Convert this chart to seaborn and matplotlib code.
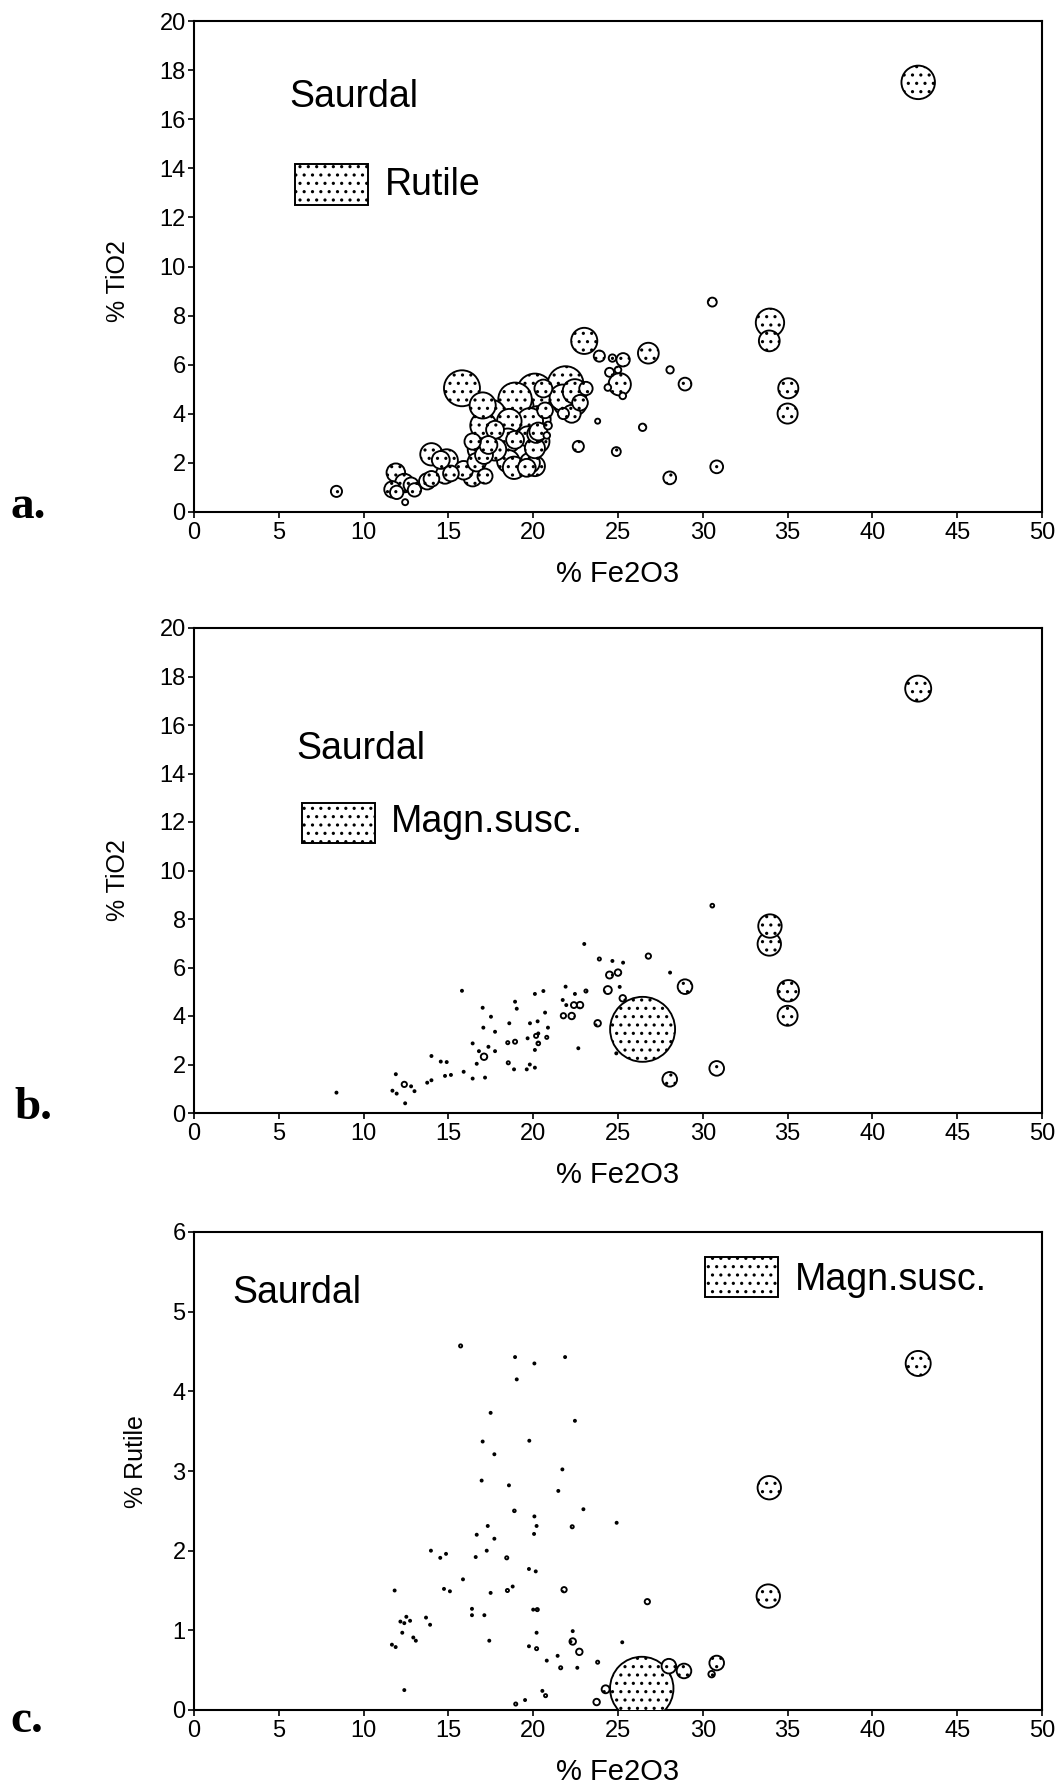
import numpy as np
import pandas as pd
import matplotlib
matplotlib.use("Agg")
import matplotlib.pyplot as plt
from matplotlib.patches import Rectangle
import seaborn as sns

# ---------------- data: panels a and b (same samples) ----------------
fe2o3_ab = [8.4, 11.9, 11.7, 11.95, 12.45, 12.4, 12.8, 13.0, 13.75, 14.0,
            14.0, 14.55, 14.9, 14.8, 15.15, 15.9, 15.8, 16.43, 16.43, 16.67,
            17.02, 17.06, 17.1, 17.16, 16.8, 17.36, 17.51, 17.75, 17.75, 18.5,
            18.53, 18.59, 18.93, 19.03, 18.93, 18.87, 19.62, 19.67, 19.81, 19.8,
            20.1, 20.1, 20.17, 20.26, 20.3, 20.3, 20.1, 20.6, 20.7, 20.8,
            20.87, 21.78, 21.74, 21.91, 21.95, 22.27, 22.4, 22.46, 22.76, 22.66,
            23.01, 23.11, 23.8, 23.9, 24.4, 24.5, 24.67, 25.0, 25.1, 25.28,
            25.3, 24.9, 26.45, 26.79, 28.07, 28.05, 28.95, 30.56, 30.82, 33.96,
            33.92, 35.04, 35.0, 42.7]
tio2_ab = [0.84, 1.6, 0.92, 0.8, 0.40, 1.18, 1.1, 0.9, 1.25, 1.35,
           2.35, 2.12, 2.1, 1.53, 1.57, 1.7, 5.04, 2.87, 1.42, 2.03,
           4.34, 3.52, 2.32, 1.46, 2.55, 2.73, 3.97, 3.35, 2.55, 2.9,
           2.07, 3.70, 4.59, 4.30, 2.94, 1.8, 1.80, 3.08, 3.70, 2.0,
           4.91, 2.6, 3.18, 3.78, 2.87, 3.28, 1.87, 5.03, 4.14, 3.12,
           3.52, 4.01, 4.66, 5.21, 4.45, 4.0, 4.45, 4.91, 4.45, 2.67,
           6.97, 5.03, 3.7, 6.35, 5.07, 5.69, 6.27, 5.79, 5.2, 4.73,
           6.2, 2.46, 3.45, 6.47, 5.79, 1.39, 5.21, 8.55, 1.84, 7.71,
           6.97, 5.04, 4.01, 17.5]
rutile_ab = [0.48, 1.33, 1.03, 0.69, 0.14, 1.33, 0.87, 0.69, 1.03, 0.95,
             1.93, 1.23, 1.93, 1.33, 0.95, 1.33, 5.38, 1.03, 1.33, 1.33,
             2.64, 2.64, 1.23, 0.87, 1.93, 1.23, 3.41, 1.23, 1.93, 2.33,
             1.93, 2.33, 4.34, 4.34, 1.23, 1.93, 1.23, 1.56, 2.64, 1.56,
             4.94, 1.56, 1.23, 2.64, 1.93, 1.23, 1.56, 1.23, 0.95, 0.17,
             0.24, 0.48, 2.64, 4.94, 2.64, 1.23, 2.64, 2.33, 0.95, 0.48,
             2.64, 0.69, 0.10, 0.48, 0.17, 0.31, 0.21, 0.17, 1.93, 0.17,
             0.69, 0.31, 0.21, 1.67, 0.21, 0.63, 0.63, 0.31, 0.63, 3.11,
             1.67, 1.56, 1.56, 4.34]
magsusc_ab = [0.03, 0.03, 0.03, 0.03, 0.03, 0.2, 0.03, 0.03, 0.03, 0.03,
              0.03, 0.03, 0.03, 0.03, 0.03, 0.03, 0.03, 0.03, 0.03, 0.03,
              0.03, 0.03, 0.3, 0.03, 0.03, 0.03, 0.03, 0.03, 0.03, 0.07,
              0.07, 0.03, 0.03, 0.03, 0.12, 0.03, 0.03, 0.03, 0.03, 0.03,
              0.03, 0.03, 0.12, 0.03, 0.1, 0.03, 0.03, 0.03, 0.03, 0.07,
              0.03, 0.2, 0.03, 0.03, 0.03, 0.3, 0.25, 0.03, 0.3, 0.03,
              0.03, 0.07, 0.3, 0.07, 0.45, 0.35, 0.03, 0.3, 0.03, 0.3,
              0.03, 0.03, 30.0, 0.2, 0.03, 1.52, 1.52, 0.1, 1.52, 3.89,
              3.89, 3.26, 2.84, 4.8]

# ---------------- data: panel c ----------------
fe2o3_c = [15.72, 18.93, 20.07, 21.88, 19.03, 17.49, 22.46, 17.02, 19.77, 17.71,
           21.72, 16.96, 18.57, 21.48, 18.89, 20.07, 22.96, 24.92, 20.2, 22.3,
           17.32, 16.67, 17.71, 17.26, 20.05, 13.97, 14.86, 14.52, 16.61, 18.44,
           19.75, 20.15, 15.86, 11.83, 14.74, 15.09, 17.49, 18.48, 18.79, 21.82,
           26.73, 16.39, 16.39, 17.12, 20.0, 20.24, 12.52, 12.17, 12.4, 12.74,
           13.68, 13.92, 22.33, 12.28, 20.2, 12.93, 13.08, 17.41, 22.33, 25.25,
           11.67, 11.89, 19.75, 20.2, 22.72, 21.44, 20.8, 23.8, 21.62, 22.6,
           12.4, 24.27, 20.54, 20.73, 23.74, 18.97, 19.52, 26.4, 28.0, 28.89,
           30.82, 30.52, 33.92, 33.86, 42.7]
rutile_c = [4.57, 4.43, 4.35, 4.43, 4.15, 3.73, 3.63, 3.37, 3.38, 3.21,
            3.02, 2.88, 2.82, 2.75, 2.5, 2.43, 2.52, 2.35, 2.31, 2.3,
            2.31, 2.2, 2.15, 2.0, 2.21, 2.0, 1.96, 1.91, 1.92, 1.91,
            1.77, 1.74, 1.64, 1.50, 1.52, 1.49, 1.47, 1.50, 1.55, 1.51,
            1.36, 1.27, 1.19, 1.19, 1.26, 1.26, 1.17, 1.11, 1.09, 1.12,
            1.16, 1.07, 0.99, 0.97, 0.97, 0.91, 0.87, 0.87, 0.86, 0.85,
            0.82, 0.79, 0.80, 0.77, 0.73, 0.68, 0.62, 0.6, 0.53, 0.53,
            0.25, 0.26, 0.24, 0.18, 0.1, 0.075, 0.125, 0.27, 0.55, 0.49,
            0.59, 0.45, 2.79, 1.43, 4.35]
magsusc_c = [0.07, 0.03, 0.03, 0.03, 0.03, 0.03, 0.03, 0.03, 0.03, 0.03,
             0.03, 0.03, 0.03, 0.03, 0.05, 0.03, 0.03, 0.03, 0.03, 0.07,
             0.03, 0.03, 0.03, 0.03, 0.03, 0.03, 0.03, 0.03, 0.03, 0.07,
             0.03, 0.03, 0.03, 0.03, 0.03, 0.03, 0.03, 0.07, 0.03, 0.2,
             0.2, 0.03, 0.03, 0.03, 0.03, 0.07, 0.03, 0.03, 0.03, 0.03,
             0.03, 0.03, 0.03, 0.03, 0.03, 0.03, 0.03, 0.03, 0.3, 0.03,
             0.03, 0.03, 0.03, 0.07, 0.3, 0.03, 0.03, 0.07, 0.07, 0.03,
             0.03, 0.45, 0.03, 0.07, 0.3, 0.07, 0.03, 28.6, 1.52, 1.52,
             1.52, 0.3, 3.89, 3.89, 4.45]

xticks = list(range(0, 51, 5))
yticks_ti = list(range(0, 21, 2))
yticks_ru = list(range(0, 7, 1))

# ---------------- style ----------------
sns.set_theme(style="ticks")
plt.rcParams['font.family'] = ['Liberation Sans', 'DejaVu Sans']
plt.rcParams.update({
    'axes.edgecolor': 'black', 'axes.linewidth': 1.5,
    'xtick.color': 'black', 'ytick.color': 'black',
    'xtick.labelcolor': 'black', 'ytick.labelcolor': 'black',
    'xtick.major.size': 4.5, 'ytick.major.size': 4.5,
    'xtick.major.width': 1.2, 'ytick.major.width': 1.2,
    'xtick.major.pad': 2.5, 'ytick.major.pad': 1.5,
    'xtick.labelsize': 17, 'ytick.labelsize': 17,
    'hatch.linewidth': 1.1, 'hatch.color': 'black',
    'axes.facecolor': 'white', 'figure.facecolor': 'white',
})

fig = plt.figure(figsize=(10.62, 17.86), dpi=100)
L, W = 194 / 1062, 848 / 1062
axA = fig.add_axes([L, (1786 - 512) / 1786, W, 491 / 1786])
axB = fig.add_axes([L, (1786 - 1113) / 1786, W, 485 / 1786])
axC = fig.add_axes([L, (1786 - 1710) / 1786, W, 478 / 1786])


def bubbles(ax, x, y, v, smax, vmax):
    df = pd.DataFrame({'x': x, 'y': y, 'v': v}).sort_values('v', ascending=False)
    sns.scatterplot(data=df, x='x', y='y', size='v', sizes=(0, smax),
                    size_norm=(0, vmax), facecolor='white', edgecolor='black',
                    linewidth=1.35, hatch='..', legend=False, ax=ax, zorder=3)


bubbles(axA, fe2o3_ab, tio2_ab, rutile_ab, 670, 5)
bubbles(axB, fe2o3_ab, tio2_ab, magsusc_ab, 72.9 * 30, 30)
bubbles(axC, fe2o3_c, rutile_c, magsusc_c, 72.9 * 30, 30)

for ax, yt, ylab, lc in [(axA, yticks_ti, '% TiO2', (-0.075, 0.47)),
                         (axB, yticks_ti, '% TiO2', (-0.075, 0.48)),
                         (axC, yticks_ru, '% Rutile', (-0.054, 0.52))]:
    ax.set_xlim(0, 50)
    ax.set_ylim(yt[0], yt[-1])
    ax.set_xticks(xticks)
    ax.set_yticks(yt)
    ax.set_xlabel('% Fe2O3', fontsize=21, labelpad=12, color='black')
    ax.set_ylabel(ylab, fontsize=18, color='black')
    ax.yaxis.set_label_coords(*lc)
    for sp in ax.spines.values():
        sp.set_visible(True)


def legend_box(ax, tx, ty, rx, ry, label, lx, ly):
    ax.text(tx, ty, 'Saurdal', transform=ax.transAxes, fontsize=27,
            ha='left', va='center', color='black')
    ax.add_patch(Rectangle((rx, ry), 0.086, 0.083, transform=ax.transAxes,
                           facecolor='white', edgecolor='black', hatch='..',
                           lw=1.4, zorder=4, clip_on=False))
    ax.text(lx, ly, label, transform=ax.transAxes, fontsize=27,
            ha='left', va='center', color='black')


legend_box(axA, 0.112, 0.845, 0.119, 0.625, 'Rutile', 0.225, 0.666)
legend_box(axB, 0.121, 0.751, 0.127, 0.557, 'Magn.susc.', 0.232, 0.599)
legend_box(axC, 0.045, 0.872, 0.603, 0.864, 'Magn.susc.', 0.709, 0.900)

for lab, yy, xx in [('a.', 0.710, 0.010), ('b.', 0.3735, 0.014), ('c.', 0.030, 0.010)]:
    fig.text(xx, yy, lab, fontsize=34, fontweight='bold',
             family='Liberation Serif', va='baseline', ha='left', color='black')

fig.savefig('out.png', dpi=100)
